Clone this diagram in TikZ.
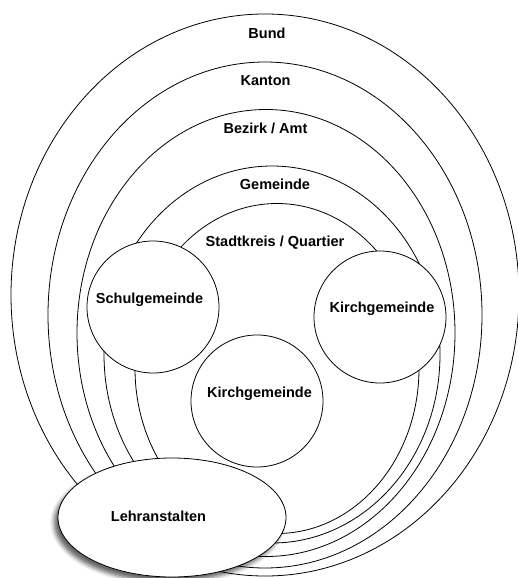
\documentclass[tikz,border=0pt]{standalone}
\usepackage{fontspec}
\setmainfont{Liberation Sans}
\usetikzlibrary{shapes.geometric,shadows.blur}
\begin{document}
\begin{tikzpicture}[x=1pt,y=-1pt,
  ring/.style={draw=black, ellipse, line width=0.8pt, inner sep=0pt, outer sep=0pt},
  unit/.style={draw=black, fill=white, circle, line width=0.8pt, inner sep=0pt, minimum size=132pt},
  lbl/.style={font=\bfseries\fontsize{14.5}{17}\selectfont, anchor=base, inner sep=0pt}]
\useasboundingbox (0,0) rectangle (517,578);
\node[ring, minimum width=508pt, minimum height=562pt] (bund) at (265,295) {};
\node[ring, minimum width=434pt, minimum height=506pt] (kanton) at (265,315) {};
\node[ring, minimum width=378pt, minimum height=447pt] (bezirk) at (266,333) {};
\node[ring, minimum width=336pt, minimum height=377pt] (gemeinde) at (272,354.5) {};
\node[ring, minimum width=284pt, minimum height=330pt] (stadtkreis) at (277,368.5) {};
\node[unit] (schul) at (153,307) {};
\node[unit] (kirchR) at (380,317) {};
\node[unit] (kirchU) at (257,401) {};
\node[ellipse, draw=black, fill=white, line width=0.8pt, minimum width=228pt, minimum height=119pt, inner sep=0pt,
  blur shadow={shadow xshift=-4pt, shadow yshift=-5pt, shadow blur radius=4pt, shadow opacity=60}] (lehr) at (172,517.5) {};
\node[lbl] (tbund) at (267,38.5) {Bund};
\node[lbl] (tkanton) at (265.5,85.3) {Kanton};
\node[lbl] (tbezirk) at (265.5,133.3) {Bezirk / Amt};
\node[lbl] (tgemeinde) at (275,189.8) {Gemeinde};
\node[lbl] (tstadt) at (275,246) {Stadtkreis / Quartier};
\node[lbl] (tschul) at (149.5,303.3) {Schulgemeinde};
\node[lbl] (tkirchR) at (382,312) {Kirchgemeinde};
\node[lbl] (tkirchU) at (259.5,397) {Kirchgemeinde};
\node[lbl] (tlehr) at (158.5,521.5) {Lehranstalten};
\end{tikzpicture}
\end{document}
